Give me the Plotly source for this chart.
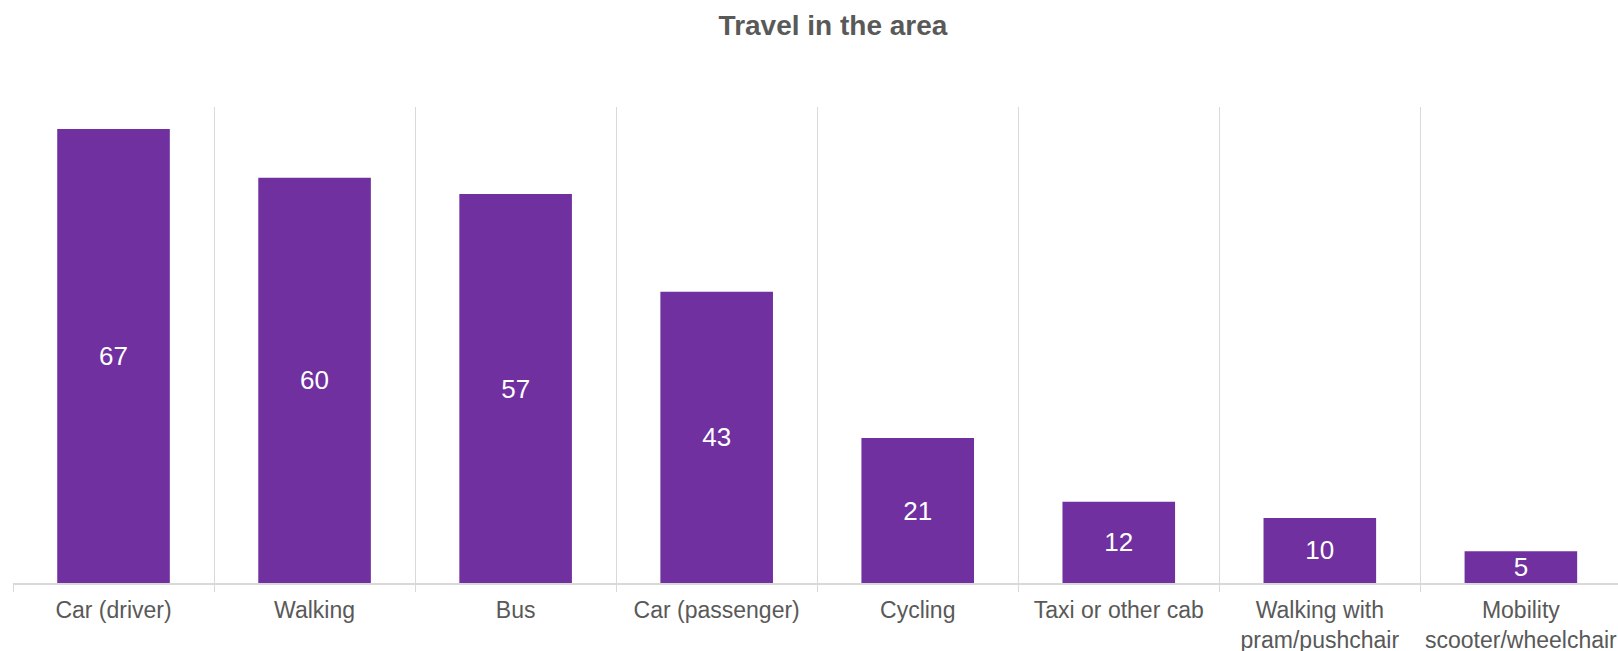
import plotly.graph_objects as go

categories = ["Car (driver)", "Walking", "Bus", "Car (passenger)", "Cycling",
              "Taxi or other cab", "Walking with<br>pram/pushchair",
              "Mobility<br>scooter/wheelchair"]
values = [67, 59.8, 57.4, 43, 21.4, 12, 9.6, 4.7]
labels = [f"{round(v):d}" for v in values]

W, H = 1618, 651
left, top, bottom = 13.4, 107, 583
cat_w = 201.0
x_max = -0.5 + (W - left) / cat_w

fig = go.Figure(go.Bar(
    x=categories, y=values,
    marker=dict(color="#7030A0", line=dict(width=0)),
    text=labels,
    textposition="inside", insidetextanchor="middle",
    textfont=dict(color="white", size=26, family="Liberation Sans, Arial, sans-serif"),
    textangle=0,
    width=0.56,
    hoverinfo="skip",
))

fig.update_layout(
    width=W, height=H,
    paper_bgcolor="white", plot_bgcolor="white",
    margin=dict(l=left, r=0, t=top, b=H - bottom, autoexpand=False),
    font=dict(family="Liberation Sans, Arial, sans-serif", color="#595959", size=23),
    title=dict(text="<b>Travel in the area</b>", x=833 / W, xanchor="center",
               y=1 - 25 / H, yanchor="middle",
               font=dict(size=28, color="#595959")),
    showlegend=False,
    uniformtext=dict(mode="show", minsize=26),
)
fig.update_xaxes(
    type="category", range=[-0.5, x_max],
    tickson="boundaries", showgrid=True, gridcolor="#d9d9d9", gridwidth=1,
    showline=True, linecolor="#d9d9d9", linewidth=2,
    ticks="outside", ticklen=7, tickcolor="#d9d9d9", tickwidth=1,
    tickfont=dict(size=23, color="#595959"),
    ticklabelstandoff=5,
    fixedrange=True,
)
fig.update_yaxes(range=[0, 70.25], visible=False, showgrid=False, zeroline=False,
                 fixedrange=True)

fig.write_html("out.html",
               config={"displayModeBar": False},
               post_script="document.body.style.margin='0';document.body.style.overflow='hidden';")
